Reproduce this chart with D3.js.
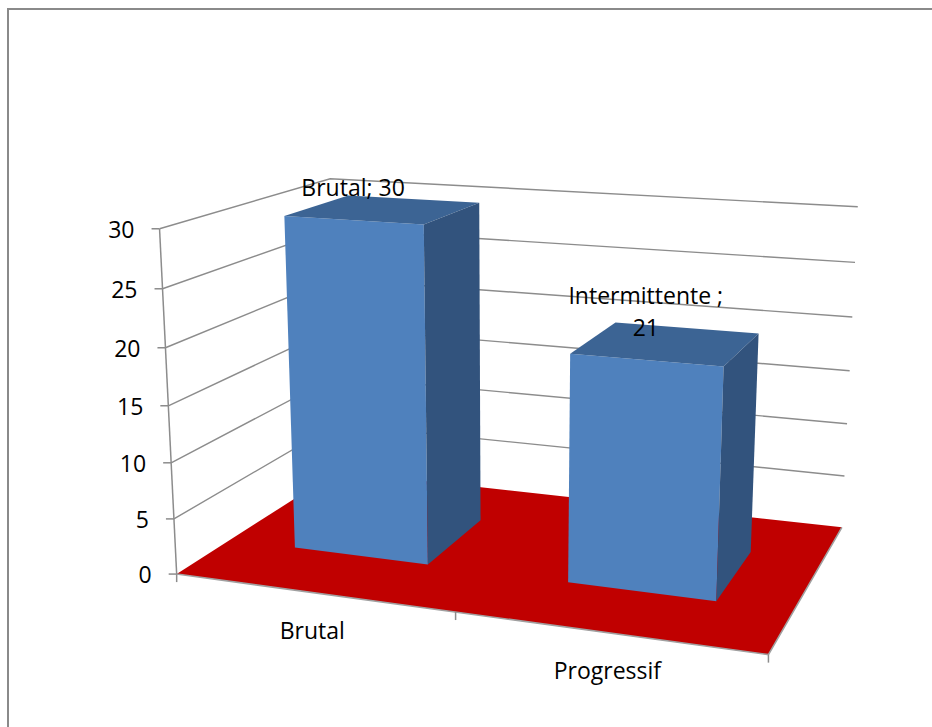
<!DOCTYPE html>
<html><head><meta charset="utf-8">
<script src="https://cdn.jsdelivr.net/npm/d3@7"></script>
<style>
body{margin:0;background:#fff;overflow:hidden}
text{font-family:"Open Sans",sans-serif;font-size:23px;fill:#000}
</style>
</head><body>
<svg id="chart" width="932" height="727"></svg>
<script>
// ---- data ----
const categories = ["Brutal", "Progressif"];
// bar heights (the second bar stands at about 20)
const values = [30, 20];
// data label texts exactly as printed on the chart
const dataLabels = [["Brutal; 30"], ["Intermittente ;", "21"]];
const yTicks = [0, 5, 10, 15, 20, 25, 30];

// ---- layout ----
const W = 932, H = 727;
const svg = d3.select("#chart");

// 3D box coordinates: X (categories) 0..1, Y (value) 0..1, Z (depth) 0..1
const x = d3.scaleBand().domain(categories).range([0, 1]).paddingInner(0.5).paddingOuter(0.25);
const y = d3.scaleLinear().domain([0, 30]).range([0, 1]);
const zFront = 0.3, zBack = 0.7;

// camera calibration: plot-frame (walls / floor) anchors -> screen
const calib = [
  [[0, 0, 0], [177, 575]],
  [[0, 1 / 6, 0], [174, 519]],
  [[0, 0.5, 0], [168, 404]],
  [[0, 5 / 6, 0], [162, 288]],
  [[0, 1, 0], [160, 230]],
  [[0, 1, 1], [330, 179]],
  [[1, 1, 1], [858, 207]],
  [[1, 5 / 6, 1], [855, 262]],
  [[1, 0.5, 1], [850, 371]],
  [[1, 1 / 6, 1], [844, 476]],
  [[1, 0, 1], [842, 527]],
  [[1, 0, 0], [768, 655]],
  [[0.5, 0, 0], [456, 612]]
];

function solveCamera(pts) {
  const s = 1000;
  const A = [], b = [];
  pts.forEach(([[X, Y, Z], [u0, v0]]) => {
    const u = u0 / s, v = v0 / s;
    A.push([X, Y, Z, 1, 0, 0, 0, 0, -u * X, -u * Y, -u * Z]); b.push(u);
    A.push([0, 0, 0, 0, X, Y, Z, 1, -v * X, -v * Y, -v * Z]); b.push(v);
  });
  const n = 11, M = [];
  for (let i = 0; i < n; i++) {
    const row = new Array(n + 1).fill(0);
    for (let j = 0; j < n; j++) { let t = 0; for (let k = 0; k < A.length; k++) t += A[k][i] * A[k][j]; row[j] = t; }
    let t = 0; for (let k = 0; k < A.length; k++) t += A[k][i] * b[k]; row[n] = t;
    M.push(row);
  }
  for (let c = 0; c < n; c++) {
    let p = c;
    for (let r = c + 1; r < n; r++) if (Math.abs(M[r][c]) > Math.abs(M[p][c])) p = r;
    [M[c], M[p]] = [M[p], M[c]];
    for (let r = 0; r < n; r++) {
      if (r === c) continue;
      const f = M[r][c] / M[c][c];
      for (let k = c; k <= n; k++) M[r][k] -= f * M[c][k];
    }
  }
  const P = M.map((row, i) => row[n] / row[i]);
  return ([X, Y, Z]) => {
    const w = P[8] * X + P[9] * Y + P[10] * Z + 1;
    return [s * (P[0] * X + P[1] * Y + P[2] * Z + P[3]) / w,
            s * (P[4] * X + P[5] * Y + P[6] * Z + P[7]) / w];
  };
}
const proj = solveCamera(calib);
const line = d3.line();
const path = pts => line(pts.map(proj));

// frame
svg.append("rect").attr("x", 8).attr("y", 9).attr("width", 940).attr("height", 740)
  .attr("fill", "none").attr("stroke", "#8a8a8a").attr("stroke-width", 2);

// floor
svg.append("path")
  .attr("d", path([[0, 0, 0], [1, 0, 0], [1, 0, 1], [0, 0, 1]]) + "Z")
  .attr("fill", "#C00000");

// gridlines (side wall + back wall)
svg.append("g").selectAll("path").data(yTicks.filter(t => t > 0)).join("path")
  .attr("d", t => path([[0, y(t), 0], [0, y(t), 1], [1, y(t), 1]]))
  .attr("fill", "none").attr("stroke", "#8c8c8c").attr("stroke-width", 1.4);

// floor front / right edge
svg.append("path")
  .attr("d", path([[0, 0, 0], [1, 0, 0], [1, 0, 1]]))
  .attr("fill", "none").attr("stroke", "#a0a0a0").attr("stroke-width", 1.6);

// value axis
svg.append("path").attr("d", path([[0, 0, 0], [0, 1, 0]]))
  .attr("fill", "none").attr("stroke", "#8c8c8c").attr("stroke-width", 1.5);
const yAx = svg.append("g");
yTicks.forEach(t => {
  const [px, py] = proj([0, y(t), 0]);
  yAx.append("line").attr("x1", px - 8).attr("x2", px).attr("y1", py).attr("y2", py)
    .attr("stroke", "#8c8c8c").attr("stroke-width", 1.5);
  yAx.append("text").attr("x", px - 25).attr("y", py + 9).attr("text-anchor", "end").text(t);
});

// category axis ticks
[0, 0.5, 1].forEach(X => {
  const [px, py] = proj([X, 0, 0]);
  svg.append("line").attr("x1", px).attr("x2", px).attr("y1", py).attr("y2", py + 8)
    .attr("stroke", "#8c8c8c").attr("stroke-width", 1.5);
});

// bars
const bars = svg.append("g");
categories.forEach((c, i) => {
  const X0 = x(c), X1 = X0 + x.bandwidth(), Y1 = y(values[i]);
  const g = bars.append("g");
  g.append("path").attr("d", path([[X0, 0, zFront], [X1, 0, zFront], [X1, Y1, zFront], [X0, Y1, zFront]]) + "Z")
    .attr("fill", "#4F81BD");
  g.append("path").attr("d", path([[X0, Y1, zFront], [X1, Y1, zFront], [X1, Y1, zBack], [X0, Y1, zBack]]) + "Z")
    .attr("fill", "#3C6494");
  g.append("path").attr("d", path([[X1, 0, zFront], [X1, 0, zBack], [X1, Y1, zBack], [X1, Y1, zFront]]) + "Z")
    .attr("fill", "#32537D");
});

// data labels
categories.forEach((c, i) => {
  const [px, py] = proj([x(c) + x.bandwidth() / 2, y(values[i]), zFront]);
  const lines = dataLabels[i];
  lines.forEach((s, j) => {
    svg.append("text").attr("x", px).attr("y", py - 24 - (lines.length - 1 - j) * 32)
      .attr("text-anchor", "middle").text(s);
  });
});

// category labels
categories.forEach(c => {
  const [px, py] = proj([x(c) + x.bandwidth() / 2, 0, 0]);
  svg.append("text").attr("x", px).attr("y", py + 46).attr("text-anchor", "middle").text(c);
});
</script>
</body></html>
